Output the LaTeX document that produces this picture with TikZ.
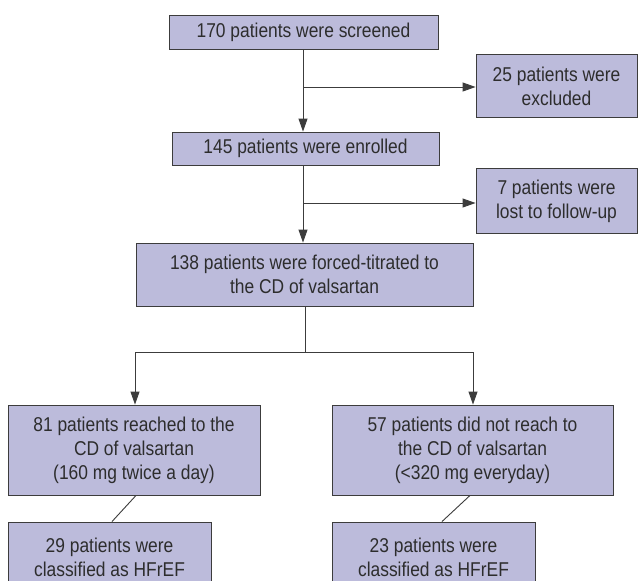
\documentclass[tikz,border=0pt]{standalone}
\usepackage{fontspec}
\setmainfont[FakeStretch=0.87]{Liberation Sans}
\usetikzlibrary{arrows.meta}
\definecolor{boxfill}{RGB}{188,187,219}
\definecolor{boxline}{RGB}{60,60,60}
\definecolor{txt}{RGB}{45,45,45}
\begin{document}
\begin{tikzpicture}[x=1pt,y=-1pt,
  box/.style={draw=boxline,line width=0.9pt,fill=boxfill,text=txt,rectangle,inner sep=0pt,
    align=center,font=\fontsize{20}{24}\selectfont},
  conn/.style={draw=boxline,line width=0.9pt},
  arr/.style={conn,-{Triangle[length=13pt,width=9pt]}}]
\fill[white] (0,0) rectangle (638,581);
\useasboundingbox (0,0) rectangle (638,581);
\clip (0,0) rectangle (638,581);
\node[box,minimum width=269pt,minimum height=34pt] (scr) at (303.5,32) {170 patients were screened};
\node[box,minimum width=161pt,minimum height=63pt] (exc) at (556.5,86) {25 patients were\\excluded};
\node[box,minimum width=267pt,minimum height=33pt] (enr) at (305.5,148.5) {145 patients were enrolled};
\node[box,minimum width=161pt,minimum height=65pt] (lost) at (556.5,201) {7 patients were\\lost to follow-up};
\node[box,minimum width=337pt,minimum height=63pt] (main) at (304.5,274.5) {138 patients were forced-titrated to\\the CD of valsartan};
\node[box,minimum width=252pt,minimum height=90pt] (left) at (134,450) {81 patients reached to the\\CD of valsartan\\(160 mg twice a day)};
\node[box,minimum width=281pt,minimum height=90pt] (right) at (472.5,450) {57 patients did not reach to\\the CD of valsartan\\(<320 mg everyday)};
\node[box,minimum width=203pt,minimum height=70pt] (bl) at (109.5,557) {29 patients were\\classified as HFrEF};
\node[box,minimum width=203pt,minimum height=70pt] (br) at (433.5,557) {23 patients were\\classified as HFrEF};
\coordinate (j1) at (303,87);
\coordinate (j2) at (303,203);
\coordinate (j3) at (305,352);
\coordinate (jl) at (135,352);
\coordinate (jr) at (473,352);
\draw[arr] (scr.south -| j1) -- (enr.north -| j1);
\draw[arr] (j1) -- (exc.west |- j1);
\draw[arr] (enr.south -| j2) -- (main.north -| j2);
\draw[arr] (j2) -- (lost.west |- j2);
\draw[conn] (main.south -| j3) -- (j3);
\draw[conn] (jl) -- (jr);
\draw[arr] (jl) -- (left.north -| jl);
\draw[arr] (jr) -- (right.north -| jr);
\draw[conn] ([xshift=2pt]left.south) -- ([xshift=2.5pt]bl.north);
\draw[conn] ([xshift=-2.5pt]right.south) -- ([xshift=8.5pt]br.north);
\end{tikzpicture}
\end{document}
